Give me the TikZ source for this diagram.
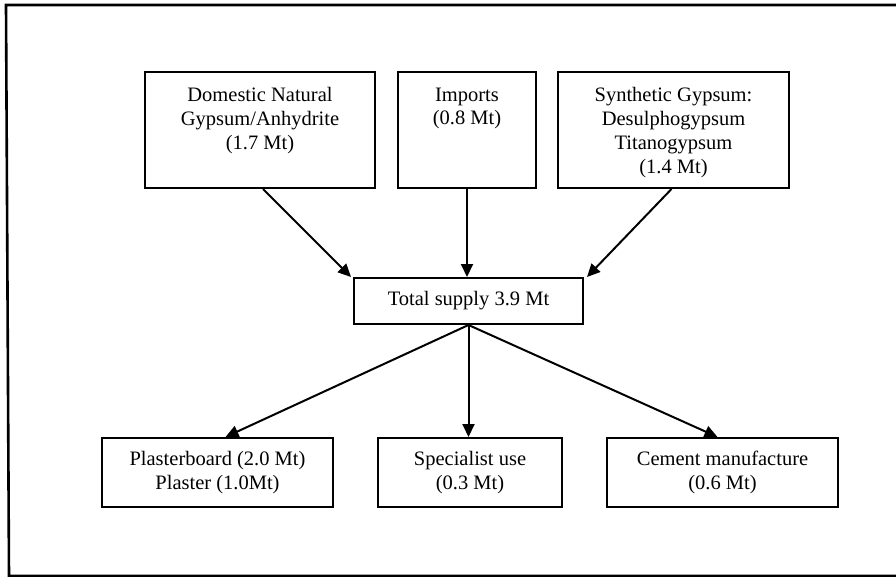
\documentclass[tikz,border=0pt]{standalone}
\usepackage{fontspec}
\setmainfont{Liberation Serif}
\usetikzlibrary{arrows.meta,calc}
\begin{document}
\begin{tikzpicture}[x=1pt,y=-1pt,
  box/.style={draw, line width=2pt, inner sep=0pt, align=center,
    font=\fontsize{20.5}{23.7}\selectfont},
  txt/.style={align=center, inner sep=0pt, anchor=north,
    font=\fontsize{20.5}{23.7}\selectfont},
  flow/.style={line width=2pt, -{Triangle[length=13pt,width=12pt]}}]
\useasboundingbox (0,0) rectangle (896,577);

% frame (open on the right)
\draw[line width=2.6pt] (896,5) -- (6,5) -- (9,576) -- (896,576);

% sources
\node[box, minimum width=230, minimum height=116] (dom) at (260,130) {};
\node[box, minimum width=138, minimum height=116] (imp) at (467,130) {};
\node[box, minimum width=231, minimum height=116] (syn) at (673.5,130) {};
\node[txt] (domtxt) at ($(dom.north)+(0,16.5)$) {Domestic Natural\\Gypsum/Anhydrite\\(1.7 Mt)};
\node[txt] (imptxt) at ($(imp.north)+(0,16.5)$) {Imports\\(0.8 Mt)};
\node[txt] (syntxt) at ($(syn.north)+(0,16.5)$) {Synthetic Gypsum:\\Desulphogypsum\\Titanogypsum\\(1.4 Mt)};

% total
\node[box, minimum width=229, minimum height=46] (tot) at (468.5,301) {Total supply 3.9 Mt};

% uses
\node[box, minimum width=231, minimum height=69] (pb) at (217.5,472.5) {Plasterboard (2.0 Mt)\\Plaster (1.0Mt)};
\node[box, minimum width=184, minimum height=69] (sp) at (470,472.5) {Specialist use\\(0.3 Mt)};
\node[box, minimum width=231, minimum height=69] (cm) at (722.5,472.5) {Cement manufacture\\(0.6 Mt)};

% flows in
\draw[flow] ($(dom.south)+(3,0)$) -- ($(tot.north west)+(-2,0)$);
\draw[flow] (imp.south) -- (imp.south |- tot.north);
\draw[flow] ($(syn.south)+(-2,0)$) -- ($(tot.north east)+(3,0)$);

% flows out
\draw[flow] (tot.south) -- ($(pb.north)+(8,0)$);
\draw[flow] (tot.south) -- (tot.south |- sp.north);
\draw[flow] (tot.south) -- ($(cm.north)+(-5,0)$);
\end{tikzpicture}
\end{document}
